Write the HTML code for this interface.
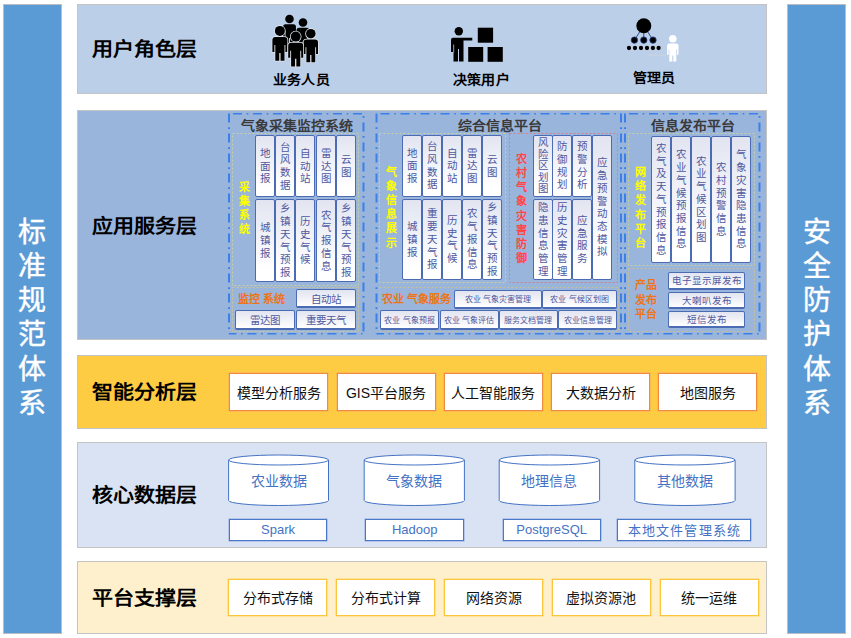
<!DOCTYPE html><html lang="zh-CN"><head><meta charset="utf-8"><style>
*{margin:0;padding:0;box-sizing:border-box}
html,body{width:851px;height:638px;background:#fff;overflow:hidden;font-family:"Liberation Sans",sans-serif}
.a{position:absolute}
.bar{position:absolute;background:#5b9bd5;border:1px solid #b9bdc6;color:#fff;font-size:28px;line-height:34.1px;text-align:center;-webkit-text-stroke:0.4px #fff}
.layer{position:absolute;border:1px solid #c4c4c4}
.lt{position:absolute;font-size:21px;font-weight:bold;color:#000;white-space:nowrap;line-height:24px;transform:scaleY(0.92);transform-origin:50% 21.5px}
.ic{position:absolute;font-size:14px;font-weight:bold;color:#000;white-space:nowrap;line-height:16px;letter-spacing:0.2px;transform:scaleY(0.9);transform-origin:50% 14.5px}
.vb{position:absolute;border:1.5px solid #4b6cb4;border-radius:2px;background:linear-gradient(#e2e5f1,#fff 85%);display:flex;align-items:center;justify-content:center;color:#4f58a0;font-size:10.5px;line-height:12.7px;text-align:center}
.hb{position:absolute;border:1.5px solid #4b6cb4;border-bottom-width:2px;border-radius:2px;background:linear-gradient(#e2e4f0,#fff);display:flex;align-items:center;justify-content:center;color:#4f58a0;font-size:11px;white-space:nowrap}
.sm{font-size:8px}
.ttl{position:absolute;font-size:14px;font-weight:bold;color:#3a3a3a;white-space:nowrap;line-height:16px}
.lab{position:absolute;font-weight:bold;text-align:center;font-size:11px;line-height:14.2px}
.yl{color:#ffff00}
.og{color:#ef7418}
.rd{color:#ff4747}
.ob{position:absolute;background:#fff;border:1px solid #f08a40;box-shadow:0 0 0 0.4px #f4a060;display:flex;align-items:center;justify-content:center;font-size:14px;color:#111;white-space:nowrap}
.yb{position:absolute;background:#fff;border:1px solid #fdc53a;box-shadow:0 0 0 0.4px #fdd060;display:flex;align-items:center;justify-content:center;font-size:14px;color:#111;white-space:nowrap}
.bb{position:absolute;background:#fff;border:1px solid #4a78c8;box-shadow:0 0 0 0.4px #7a9ad6;display:flex;align-items:center;justify-content:center;font-size:13px;color:#4472c4;white-space:nowrap}
.cyt{position:absolute;display:flex;align-items:center;justify-content:center;font-size:14px;color:#4472c4;white-space:nowrap}
</style></head><body>
<div class="bar" style="left:3px;top:4px;width:59px;height:630px;padding-top:211.2px;padding-right:1.5px">标<br>准<br>规<br>范<br>体<br>系</div>
<div class="bar" style="left:787px;top:4px;width:59px;height:630px;padding-top:211.2px">安<br>全<br>防<br>护<br>体<br>系</div>
<div class="layer" style="left:77px;top:4px;width:690px;height:90px;background:#bccfe9"></div>
<div class="layer" style="left:77px;top:110px;width:690px;height:230px;background:#9ab5dc"></div>
<div class="layer" style="left:77px;top:355px;width:690px;height:74px;background:#fdcc42"></div>
<div class="layer" style="left:77px;top:442px;width:690px;height:106px;background:#dae3f3"></div>
<div class="layer" style="left:77px;top:561px;width:690px;height:73px;background:#fef0cd"></div>
<div class="lt" style="left:92px;top:37.3px">用户角色层</div>
<div class="lt" style="left:92px;top:213.7px">应用服务层</div>
<div class="lt" style="left:92px;top:380.2px">智能分析层</div>
<div class="lt" style="left:92px;top:483.3px">核心数据层</div>
<div class="lt" style="left:92px;top:585.6px">平台支撑层</div>
<div class="ic" style="left:273px;top:71px">业务人员</div>
<div class="ic" style="left:453px;top:71px">决策用户</div>
<div class="ic" style="left:633px;top:69px">管理员</div>
<svg class="a" style="left:0;top:0" width="851" height="100" viewBox="0 0 851 100"><circle cx="289.50" cy="19.00" r="4.30" fill="#000"/><path d="M285.63,24.25 H293.37 Q295.95,24.25 295.95,26.83 V37.15 H294.23 V31.13 H293.46 V44.63 H290.06 V38.01 H288.94 V44.63 H285.54 V31.13 H284.77 V37.15 H283.05 V26.83 Q283.05,24.25 285.63,24.25 Z" fill="#000"/><circle cx="303.00" cy="22.50" r="4.30" fill="#000"/><path d="M299.13,27.75 H306.87 Q309.45,27.75 309.45,30.33 V40.65 H307.73 V34.63 H306.96 V48.13 H303.56 V41.51 H302.44 V48.13 H299.04 V34.63 H298.27 V40.65 H296.55 V30.33 Q296.55,27.75 299.13,27.75 Z" fill="#000"/><circle cx="279.90" cy="30.90" r="5.00" fill="#000" stroke="#dfe5ee" stroke-width="1.6" paint-order="stroke"/><path d="M275.40,37.00 H284.40 Q287.40,37.00 287.40,40.00 V52.00 H285.40 V45.00 H284.50 V60.70 H280.55 V53.00 H279.25 V60.70 H275.30 V45.00 H274.40 V52.00 H272.40 V40.00 Q272.40,37.00 275.40,37.00 Z" fill="#000" stroke="#dfe5ee" stroke-width="1.6" stroke-linejoin="round" paint-order="stroke"/><circle cx="310.80" cy="33.70" r="4.80" fill="#000" stroke="#dfe5ee" stroke-width="1.6" paint-order="stroke"/><path d="M306.48,39.56 H315.12 Q318.00,39.56 318.00,42.44 V53.96 H316.08 V47.24 H315.22 V62.31 H311.42 V54.92 H310.18 V62.31 H306.38 V47.24 H305.52 V53.96 H303.60 V42.44 Q303.60,39.56 306.48,39.56 Z" fill="#000" stroke="#dfe5ee" stroke-width="1.6" stroke-linejoin="round" paint-order="stroke"/><circle cx="295.70" cy="36.60" r="5.00" fill="#000" stroke="#dfe5ee" stroke-width="1.6" paint-order="stroke"/><path d="M291.20,42.70 H300.20 Q303.20,42.70 303.20,45.70 V57.70 H301.20 V50.70 H300.30 V66.40 H296.35 V58.70 H295.05 V66.40 H291.10 V50.70 H290.20 V57.70 H288.20 V45.70 Q288.20,42.70 291.20,42.70 Z" fill="#000" stroke="#dfe5ee" stroke-width="1.6" stroke-linejoin="round" paint-order="stroke"/><circle cx="458.8" cy="31.2" r="4.2" fill="#000"/><path d="M453,37.8 H472.3 V40.4 H463.5 V61.5 H459 V49 H458 V61.5 H453.5 V52 H451 V40 Q451,37.8 453,37.8 Z" fill="#000"/><line x1="453.7" y1="44.5" x2="453.7" y2="52.5" stroke="#bccfe9" stroke-width="0.8"/><rect x="477.8" y="27.7" width="15.3" height="15" fill="#000"/><rect x="468.2" y="47" width="15" height="14.8" fill="#000"/><rect x="487.6" y="47" width="15.2" height="14.8" fill="#000"/><line x1="643.8" y1="25.7" x2="634.4" y2="40.1" stroke="#1f3b7a" stroke-width="0.9"/><line x1="643.8" y1="25.7" x2="643.8" y2="40.1" stroke="#1f3b7a" stroke-width="0.9"/><line x1="643.8" y1="25.7" x2="653" y2="40.1" stroke="#1f3b7a" stroke-width="0.9"/><circle cx="643.8" cy="25.7" r="7.5" fill="#000"/><circle cx="634.4" cy="40.1" r="3.2" fill="#000" stroke="#203c80" stroke-width="0.8"/><circle cx="643.8" cy="40.1" r="3.2" fill="#000" stroke="#203c80" stroke-width="0.8"/><circle cx="653" cy="40.1" r="3.2" fill="#000" stroke="#203c80" stroke-width="0.8"/><circle cx="629" cy="48" r="2.15" fill="#000" stroke="#d8dee8" stroke-width="0.5" paint-order="stroke"/><circle cx="635" cy="48" r="2.15" fill="#000" stroke="#d8dee8" stroke-width="0.5" paint-order="stroke"/><circle cx="641" cy="48" r="2.15" fill="#000" stroke="#d8dee8" stroke-width="0.5" paint-order="stroke"/><circle cx="647" cy="48" r="2.15" fill="#000" stroke="#d8dee8" stroke-width="0.5" paint-order="stroke"/><circle cx="652.9" cy="48" r="2.15" fill="#000" stroke="#d8dee8" stroke-width="0.5" paint-order="stroke"/><circle cx="658.6" cy="48" r="2.15" fill="#000" stroke="#d8dee8" stroke-width="0.5" paint-order="stroke"/><line x1="647" y1="55.1" x2="666.4" y2="55.1" stroke="#d0d4dc" stroke-width="0.8"/><circle cx="672.80" cy="38.80" r="3.80" fill="#fff"/><path d="M669.38,43.44 H676.22 Q678.50,43.44 678.50,45.72 V54.84 H676.98 V49.52 H676.30 V61.45 H673.29 V55.60 H672.31 V61.45 H669.30 V49.52 H668.62 V54.84 H667.10 V45.72 Q667.10,43.44 669.38,43.44 Z" fill="#fff"/></svg>
<svg class="a" style="left:0;top:0" width="851" height="340" viewBox="0 0 851 340"><line x1="233" y1="113.8" x2="362.5" y2="113.8" stroke="#3b80e8" stroke-width="1.6" stroke-dasharray="9 4.7 1.6 4.7" stroke-dashoffset="0"/><line x1="229" y1="113.6" x2="229" y2="333.8" stroke="#3b80e8" stroke-width="2" stroke-dasharray="9 4.7 1.6 4.7" stroke-dashoffset="0"/><line x1="363.5" y1="113.6" x2="363.5" y2="333.8" stroke="#3b80e8" stroke-width="2" stroke-dasharray="9 4.7 1.6 4.7" stroke-dashoffset="11.2"/><line x1="229" y1="333.8" x2="362.5" y2="333.8" stroke="#3b80e8" stroke-width="1.6" stroke-dasharray="9 4.7 1.6 4.7" stroke-dashoffset="1.6"/><line x1="380.5" y1="113.8" x2="621" y2="113.8" stroke="#3b80e8" stroke-width="1.6" stroke-dasharray="9 4.7 1.6 4.7" stroke-dashoffset="0"/><line x1="376.5" y1="113.6" x2="376.5" y2="333.8" stroke="#3b80e8" stroke-width="2" stroke-dasharray="9 4.7 1.6 4.7" stroke-dashoffset="0"/><line x1="621" y1="113.6" x2="621" y2="333.8" stroke="#3b80e8" stroke-width="2" stroke-dasharray="9 4.7 1.6 4.7" stroke-dashoffset="0"/><line x1="376.5" y1="333.8" x2="621" y2="333.8" stroke="#3b80e8" stroke-width="1.6" stroke-dasharray="9 4.7 1.6 4.7" stroke-dashoffset="1.6"/><line x1="629" y1="113.8" x2="759.5" y2="113.8" stroke="#3b80e8" stroke-width="1.6" stroke-dasharray="9 4.7 1.6 4.7" stroke-dashoffset="0"/><line x1="625" y1="113.6" x2="625" y2="333.8" stroke="#3b80e8" stroke-width="2" stroke-dasharray="9 4.7 1.6 4.7" stroke-dashoffset="0"/><line x1="759.5" y1="113.6" x2="759.5" y2="333.8" stroke="#3b80e8" stroke-width="2" stroke-dasharray="9 4.7 1.6 4.7" stroke-dashoffset="11.2"/><line x1="625" y1="333.8" x2="759.5" y2="333.8" stroke="#3b80e8" stroke-width="1.6" stroke-dasharray="9 4.7 1.6 4.7" stroke-dashoffset="1.6"/><rect x="232.5" y="133.5" width="126.0" height="152.0" fill="none" stroke="#c6d1a0" stroke-width="1" stroke-dasharray="2 2"/><rect x="232.5" y="287.5" width="126.0" height="44.0" fill="none" stroke="#d0c48e" stroke-width="1" stroke-dasharray="2 2"/><rect x="379.5" y="133.5" width="126.0" height="149.0" fill="none" stroke="#c6d1a0" stroke-width="1" stroke-dasharray="2 2"/><rect x="379.5" y="287.5" width="239.0" height="44.0" fill="none" stroke="#cbbf92" stroke-width="1" stroke-dasharray="2 2"/><rect x="509.5" y="133.5" width="108.0" height="149.0" fill="none" stroke="#d4808c" stroke-width="1" stroke-dasharray="2 2"/><rect x="628.5" y="133.5" width="126.0" height="132.0" fill="none" stroke="#c6d1a0" stroke-width="1" stroke-dasharray="2 2"/><rect x="628.5" y="268.5" width="126.0" height="63.0" fill="none" stroke="#cbbf92" stroke-width="1" stroke-dasharray="2 2"/></svg>
<div class="ttl" style="left:241px;top:117px;transform:scaleY(0.9);transform-origin:50% 14.5px">气象采集监控系统</div>
<div class="ttl" style="left:458px;top:117px;transform:scaleY(0.9);transform-origin:50% 14.5px">综合信息平台</div>
<div class="ttl" style="left:650.5px;top:117px;transform:scaleY(0.9);transform-origin:50% 14.5px">信息发布平台</div>
<div class="vb" style="left:255px;top:135px;width:20px;height:62px"><div>地<br>面<br>报</div></div>
<div class="vb" style="left:275.2px;top:135px;width:20px;height:62px"><div>台<br>风<br>数<br>据</div></div>
<div class="vb" style="left:295.4px;top:135px;width:20px;height:62px"><div>自<br>动<br>站</div></div>
<div class="vb" style="left:315.6px;top:135px;width:20px;height:62px"><div>雷<br>达<br>图</div></div>
<div class="vb" style="left:335.8px;top:135px;width:20px;height:62px"><div>云<br>图</div></div>
<div class="vb" style="left:255px;top:199px;width:20px;height:83px"><div>城<br>镇<br>报</div></div>
<div class="vb" style="left:275.2px;top:199px;width:20px;height:83px"><div>乡<br>镇<br>天<br>气<br>预<br>报</div></div>
<div class="vb" style="left:295.4px;top:199px;width:20px;height:83px"><div>历<br>史<br>气<br>候</div></div>
<div class="vb" style="left:315.6px;top:199px;width:20px;height:83px"><div>农<br>气<br>报<br>信<br>息</div></div>
<div class="vb" style="left:335.8px;top:199px;width:20px;height:83px"><div>乡<br>镇<br>天<br>气<br>预<br>报</div></div>
<div class="hb " style="left:296px;top:289px;width:60px;height:19px;font-size:10.5px">自动站</div>
<div class="hb " style="left:235px;top:310px;width:60px;height:19.5px;font-size:10.5px">雷达图</div>
<div class="hb " style="left:296px;top:310px;width:60px;height:19.5px;font-size:10.5px">重要天气</div>
<div class="vb" style="left:402px;top:135px;width:20px;height:61.5px"><div>地<br>面<br>报</div></div>
<div class="vb" style="left:422px;top:135px;width:20px;height:61.5px"><div>台<br>风<br>数<br>据</div></div>
<div class="vb" style="left:442px;top:135px;width:20px;height:61.5px"><div>自<br>动<br>站</div></div>
<div class="vb" style="left:462px;top:135px;width:20px;height:61.5px"><div>雷<br>达<br>图</div></div>
<div class="vb" style="left:482px;top:135px;width:20px;height:61.5px"><div>云<br>图</div></div>
<div class="vb" style="left:402px;top:199px;width:20px;height:80.5px"><div>城<br>镇<br>报</div></div>
<div class="vb" style="left:422px;top:199px;width:20px;height:80.5px"><div>重<br>要<br>天<br>气<br>报</div></div>
<div class="vb" style="left:442px;top:199px;width:20px;height:80.5px"><div>历<br>史<br>气<br>候</div></div>
<div class="vb" style="left:462px;top:199px;width:20px;height:80.5px"><div>农<br>气<br>报<br>信<br>息</div></div>
<div class="vb" style="left:482px;top:199px;width:20px;height:80.5px"><div>乡<br>镇<br>天<br>气<br>预<br>报</div></div>
<div class="vb" style="left:532.5px;top:135px;width:20px;height:61.5px;line-height:11.5px"><div>风<br>险<br>区<br>划<br>图</div></div>
<div class="vb" style="left:552.3px;top:135px;width:20px;height:61.5px"><div>防<br>御<br>规<br>划</div></div>
<div class="vb" style="left:572.3px;top:135px;width:20px;height:61.5px"><div>预<br>警<br>分<br>析</div></div>
<div class="vb" style="left:532.5px;top:199px;width:20px;height:80.5px"><div>隐<br>患<br>信<br>息<br>管<br>理</div></div>
<div class="vb" style="left:552.3px;top:199px;width:20px;height:80.5px"><div>历<br>史<br>灾<br>害<br>管<br>理</div></div>
<div class="vb" style="left:572.3px;top:199px;width:20px;height:80.5px"><div>应<br>急<br>服<br>务</div></div>
<div class="vb" style="left:592.3px;top:135px;width:20px;height:144.5px"><div>应<br>急<br>预<br>警<br>动<br>态<br>模<br>拟</div></div>
<div class="hb sm" style="left:454px;top:289.5px;width:88px;height:19px">农业 气象灾害管理</div>
<div class="hb sm" style="left:542px;top:289.5px;width:75px;height:19px">农业 气候区划图</div>
<div class="hb sm" style="left:380px;top:310px;width:59px;height:19.5px">农业 气象预报</div>
<div class="hb sm" style="left:439.5px;top:310px;width:59px;height:19.5px">农业 气象评估</div>
<div class="hb sm" style="left:498.5px;top:310px;width:59.5px;height:19.5px">服务文档管理</div>
<div class="hb sm" style="left:558px;top:310px;width:59px;height:19.5px">农业信息管理</div>
<div class="vb" style="left:651px;top:136px;width:20px;height:126.5px"><div>农<br>气<br>及<br>天<br>气<br>预<br>报<br>信<br>息</div></div>
<div class="vb" style="left:671px;top:136px;width:20px;height:126.5px"><div>农<br>业<br>气<br>候<br>预<br>报<br>信<br>息</div></div>
<div class="vb" style="left:691px;top:136px;width:20px;height:126.5px"><div>农<br>业<br>气<br>候<br>区<br>划<br>图</div></div>
<div class="vb" style="left:711px;top:136px;width:20px;height:126.5px"><div>农<br>村<br>预<br>警<br>信<br>息</div></div>
<div class="vb" style="left:731px;top:136px;width:20px;height:126.5px"><div>气<br>象<br>灾<br>害<br>隐<br>患<br>信<br>息</div></div>
<div class="hb " style="left:668px;top:272px;width:77px;height:17.5px;font-size:9.5px">电子显示屏发布</div>
<div class="hb " style="left:668px;top:291.5px;width:77px;height:17.5px;font-size:9.5px">大喇叭发布</div>
<div class="hb " style="left:668px;top:311px;width:77px;height:17px;font-size:9.5px">短信发布</div>
<div class="lab yl" style="left:236px;top:179.7px;width:16px">采<br>集<br>系<br>统</div>
<div class="ttl og" style="left:238px;top:291px;font-size:11px;line-height:16px">监控 系统</div>
<div class="lab yl" style="left:383px;top:164.5px;width:16px">气<br>象<br>信<br>息<br>展<br>示</div>
<div class="lab rd" style="left:513px;top:151.7px;width:16px">农<br>村<br>气<br>象<br>灾<br>害<br>防<br>御</div>
<div class="ttl og" style="left:381.5px;top:291px;font-size:11px;line-height:16px">农业 气象服务</div>
<div class="lab yl" style="left:632px;top:165px;width:16px">网<br>络<br>发<br>布<br>平<br>台</div>
<div class="lab og" style="left:633.5px;top:278px;width:24px;line-height:14.7px">产品<br>发布<br>平台</div>
<div class="ob" style="left:229px;top:372.8px;width:99px;height:38px">模型分析服务</div>
<div class="ob" style="left:336.5px;top:372.8px;width:99px;height:38px">GIS平台服务</div>
<div class="ob" style="left:443.5px;top:372.8px;width:99px;height:38px">人工智能服务</div>
<div class="ob" style="left:551px;top:372.8px;width:99px;height:38px">大数据分析</div>
<div class="ob" style="left:658px;top:372.8px;width:99px;height:38px">地图服务</div>
<svg class="a" style="left:0;top:440px" width="851" height="110" viewBox="0 440 851 110"><path d="M228.6,460 A49.95,5 0 0 1 328.5,460 V500.5 A49.95,5 0 0 1 228.6,500.5 Z" fill="#fff" stroke="#4472c4" stroke-width="1"/><path d="M228.6,460 A49.95,5 0 0 0 328.5,460" fill="none" stroke="#4472c4" stroke-width="1"/><path d="M364.2,460 A50.099999999999994,5 0 0 1 464.4,460 V500.5 A50.099999999999994,5 0 0 1 364.2,500.5 Z" fill="#fff" stroke="#4472c4" stroke-width="1"/><path d="M364.2,460 A50.099999999999994,5 0 0 0 464.4,460" fill="none" stroke="#4472c4" stroke-width="1"/><path d="M499.2,460 A50.20000000000002,5 0 0 1 599.6,460 V500.5 A50.20000000000002,5 0 0 1 499.2,500.5 Z" fill="#fff" stroke="#4472c4" stroke-width="1"/><path d="M499.2,460 A50.20000000000002,5 0 0 0 599.6,460" fill="none" stroke="#4472c4" stroke-width="1"/><path d="M634.8,460 A50.150000000000034,5 0 0 1 735.1,460 V500.5 A50.150000000000034,5 0 0 1 634.8,500.5 Z" fill="#fff" stroke="#4472c4" stroke-width="1"/><path d="M634.8,460 A50.150000000000034,5 0 0 0 735.1,460" fill="none" stroke="#4472c4" stroke-width="1"/></svg>
<div class="cyt" style="left:228.6px;top:468px;width:99.9px;height:24px">农业数据</div>
<div class="cyt" style="left:364.2px;top:468px;width:100.19999999999999px;height:24px">气象数据</div>
<div class="cyt" style="left:499.2px;top:468px;width:100.40000000000003px;height:24px">地理信息</div>
<div class="cyt" style="left:634.8px;top:468px;width:100.30000000000007px;height:24px">其他数据</div>
<div class="bb" style="left:228.6px;top:518.8px;width:98.9px;height:22px">Spark</div>
<div class="bb" style="left:365.1px;top:518.8px;width:99.29999999999995px;height:22px">Hadoop</div>
<div class="bb" style="left:502.5px;top:518.8px;width:98.39999999999998px;height:22px">PostgreSQL</div>
<div class="bb" style="left:617.3px;top:518.8px;width:133.30000000000007px;height:22px;letter-spacing:1.2px;padding-left:1px">本地文件管理系统</div>
<div class="yb" style="left:228px;top:579px;width:99px;height:37px;padding-bottom:2px">分布式存储</div>
<div class="yb" style="left:336px;top:579px;width:99px;height:37px;padding-bottom:2px">分布式计算</div>
<div class="yb" style="left:444px;top:579px;width:99px;height:37px;padding-bottom:2px">网络资源</div>
<div class="yb" style="left:551.5px;top:579px;width:99px;height:37px;padding-bottom:2px">虚拟资源池</div>
<div class="yb" style="left:659.5px;top:579px;width:99px;height:37px;padding-bottom:2px">统一运维</div>
</body></html>
